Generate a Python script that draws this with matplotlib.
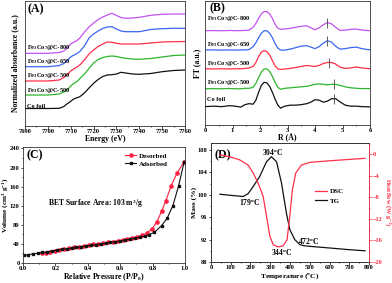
import matplotlib
matplotlib.use("Agg")
import matplotlib.pyplot as plt
from matplotlib.ticker import MultipleLocator

plt.rcParams['font.family'] = ['Liberation Serif', 'DejaVu Serif']
plt.rcParams['font.weight'] = 'bold'
plt.rcParams['axes.labelweight'] = 'bold'
plt.rcParams['mathtext.fontset'] = 'custom'
plt.rcParams['mathtext.rm'] = 'Liberation Serif:bold'
plt.rcParams['mathtext.it'] = 'Liberation Serif:italic:bold'
plt.rcParams['mathtext.bf'] = 'Liberation Serif:bold'

# ---------------- Panel A data (XANES) ----------------
energy = [7690, 7700, 7705, 7707, 7708, 7709, 7710, 7711, 7712, 7713, 7714, 7716, 7718,
          7720, 7722, 7724, 7726, 7728, 7730, 7732, 7734, 7737, 7740, 7745, 7750, 7755, 7760]
xanes_cofoil = [17.5, 17.5, 17.7, 19.5, 21.5, 23, 24.7, 26.5, 27.7, 28.5, 29.3, 33, 38,
                42.7, 46.5, 49.5, 51, 51.3, 52, 53.7, 53, 52, 51.7, 52.5, 54.3, 55.5, 56]
xanes_500b = [31, 31, 32, 34, 35.5, 37.5, 40, 42, 43.5, 45, 47.5, 52, 57.5,
              63, 66.5, 68.5, 69.5, 70, 69.5, 68.5, 67.7, 67, 66.7, 67.5, 69, 70.5, 71]
xanes_500a = [45, 45, 46, 48.5, 50.5, 52.5, 55, 56.5, 58, 59.5, 61, 66, 72,
              76, 79.5, 82, 84, 83.7, 82.7, 82, 82, 82, 82, 83, 84, 84.3, 84.5]
xanes_650 = [59.3, 59.3, 60.5, 62.5, 64.5, 67, 69, 70.5, 71.5, 73, 74.5, 80, 88,
             92, 95, 97.5, 99, 99.3, 97, 95, 94.3, 94.3, 94.3, 96.5, 97.3, 97.7, 97.7]
xanes_800 = [72.7, 72.7, 73.5, 75, 77, 79.5, 82, 83.5, 84.5, 86, 88, 94, 99,
             103, 106.5, 109, 111, 112.7, 110.5, 108.5, 107.7, 108, 108.7, 110.7, 111.7, 112, 112]

# ---------------- Panel B data (FT-EXAFS) ----------------
r_grid = [0, 0.3, 0.6, 0.9, 1.1, 1.3, 1.45, 1.6, 1.75, 1.85, 1.95, 2.05, 2.15, 2.25, 2.35,
          2.45, 2.55, 2.65, 2.75, 2.9, 3.1, 3.3, 3.5, 3.7, 3.85, 4.0, 4.15, 4.3, 4.45, 4.6,
          4.75, 4.9, 5.1, 5.3, 5.5, 5.7, 6.0]
ft_cofoil = [18.5, 19, 18.5, 19.5, 19, 18, 20.5, 21.5, 21, 25, 33, 40, 43, 42.5, 39,
             33, 26, 20, 17, 19, 20, 20, 20.5, 21.5, 23, 25.5, 25, 23, 24, 26.5,
             26.5, 23.5, 20, 19, 19, 18.5, 18.3]
ft_500b = [36.5, 36.7, 36.5, 36.8, 36.5, 36.5, 37, 37, 38, 42, 48, 53.5, 56.5, 56.5, 54,
           49, 43, 38, 36, 37, 37.5, 38, 38.5, 39, 40, 41, 41.5, 41, 40.5, 41,
           41, 40, 38.5, 37.5, 37, 36.7, 36.7]
ft_500a = [56.7, 56.5, 56.7, 56.5, 56.7, 56.7, 57, 57.5, 59, 63, 69, 73.5, 75, 74, 70.5,
           65, 59.5, 56.5, 56, 56.5, 57, 58, 59, 60, 59.5, 59, 60, 62, 63, 63,
           61.5, 58.5, 57, 57.5, 58.5, 57.5, 56.7]
ft_650 = [75.7, 75.7, 75.5, 75.7, 75.5, 75.7, 75.7, 76, 79, 83, 88, 92.5, 95, 95, 92.5,
          88, 82, 77.5, 75.5, 75.5, 76.5, 78, 79.5, 80, 78.5, 77, 79, 82.5, 85, 83.5,
          79.5, 76.5, 77, 78, 78.5, 77, 75.7]
ft_800 = [95, 95.2, 95, 95.3, 95, 95.2, 95.3, 95.7, 98.5, 102.5, 107.5, 112, 114.3, 114.3, 112,
          107.5, 101.5, 97.5, 96.5, 96.7, 97.5, 98.5, 99.5, 100, 98, 96, 98, 101, 103.3, 102,
          98.5, 95.5, 95.5, 96.5, 96.7, 95.7, 95]
mark_r = [4.7, 4.7, 4.5, 4.45, 4.45]
mark_y = [26.5, 41, 63, 85, 103.3]

sample_labels = ['Co foil', 'Fe$_3$Co$_7$@C-500', 'Fe$_3$Co$_7$@C-500',
                 'Fe$_3$Co$_7$@C-650', 'Fe$_3$Co$_7$@C-800']
colors = ['#111111', '#2db52d', '#ff2d4a', '#3a66f0', '#c253ee']

# ---------------- Panel C data (N2 isotherm) ----------------
p_ads = [0.005, 0.03, 0.06, 0.09, 0.12, 0.15, 0.18, 0.21, 0.24, 0.27, 0.30, 0.33, 0.36, 0.39,
         0.42, 0.45, 0.48, 0.51, 0.54, 0.57, 0.60, 0.63, 0.66, 0.69, 0.72, 0.75, 0.775, 0.81,
         0.855, 0.89, 0.925, 0.96, 0.995]
v_ads = [16, 17.5, 19, 20.5, 22, 23.5, 25, 27, 28.5, 30, 31, 32.5, 34, 35.5,
         37, 38.5, 40, 41.5, 43, 44.5, 46, 48, 50, 52, 54, 56.5, 59, 64,
         78, 94, 120, 161, 212]
p_des = [0.995, 0.95, 0.915, 0.88, 0.855, 0.825, 0.795, 0.765, 0.735, 0.705, 0.675, 0.645,
         0.615, 0.585, 0.555, 0.525, 0.495, 0.465, 0.435, 0.405, 0.375, 0.345, 0.315, 0.285,
         0.255, 0.225, 0.195, 0.165, 0.14, 0.12]
v_des = [212, 188, 162, 129, 108, 85, 71, 63, 58, 55, 53, 50.5,
         48.5, 46.5, 45, 43.5, 42, 40.5, 39, 37.5, 36, 34, 32.5, 30.5,
         28.5, 26.5, 24.5, 22.5, 21, 20]

# ---------------- Panel D data (TG / DSC) ----------------
t_tg = [45, 100, 163, 188, 214, 247, 281, 306, 332, 357, 382, 399, 424, 450, 472, 500, 601, 700, 780]
mass = [100.1, 99.9, 99.7, 100.2, 101.5, 103.3, 105.9, 106.8, 105.9, 102.1, 96.7, 93.8, 92.0, 91.1,
        90.9, 90.8, 90.5, 90.2, 90.0]
t_dsc = [45, 100, 146, 188, 214, 239, 264, 281, 298, 315, 340, 365, 385, 399, 412, 429, 458, 500,
         601, 700, 780]
heat = [-0.1, -0.5, -1.05, -2.0, -3.5, -5.4, -7.8, -11.5, -15.2, -16.8, -17.2, -17.0, -15.9, -11.5,
        -6.6, -3.5, -2.0, -1.5, -1.2, -0.95, -0.75]


def rect(l, t, r, b):
    return [l / 392, 1 - b / 283, (r - l) / 392, (b - t) / 283]


fig = plt.figure(figsize=(3.92, 2.83), dpi=100)
TICK = 4.7
LAB = 5.6
SPINE = '#333333'
RED = '#ff3048'


def style(ax):
    for s in ax.spines.values():
        s.set_linewidth(0.6)
        s.set_color(SPINE)
    ax.tick_params(which='both', direction='out', labelsize=TICK, width=0.5, pad=0.6)
    ax.tick_params(which='major', length=1.8)
    ax.tick_params(which='minor', length=1.0)
    for lbl in ax.get_xticklabels() + ax.get_yticklabels():
        lbl.set_fontweight('bold')


# ---- A ----
axA = fig.add_axes(rect(25, 1, 185, 126))
for ys, c in zip([xanes_cofoil, xanes_500b, xanes_500a, xanes_650, xanes_800], colors):
    axA.plot(energy, ys, color=c, lw=0.9)
axA.set_xlim(7690, 7760)
axA.set_ylim(0, 125)
axA.xaxis.set_major_locator(MultipleLocator(10))
axA.xaxis.set_minor_locator(MultipleLocator(5))
axA.set_yticks([])
style(axA)
axA.set_xlabel('Energy (eV)', fontsize=LAB)
axA.xaxis.set_label_coords(0.5, -0.068)
axA.set_ylabel('Normalized absorbance (a.u.)', fontsize=LAB)
axA.yaxis.set_label_coords(-0.035, 0.5)
a_lab_y = [20, 36, 50.3, 64.3, 78.3]
for t, y in zip(sample_labels, a_lab_y):
    axA.text(7691, y, t, fontsize=4.6, va='center', ha='left')
axA.text(0.015, 0.93, '(A)', transform=axA.transAxes, fontsize=8.5, va='center', ha='left')

# ---- B ----
axB = fig.add_axes(rect(205, 1, 370, 125))
for ys, c in zip([ft_cofoil, ft_500b, ft_500a, ft_650, ft_800], colors):
    axB.plot(r_grid, ys, color=c, lw=0.9)
axB.plot(mark_r, mark_y, ls='none', marker='|', ms=7, mew=0.6, color='#444444')
axB.set_xlim(0, 6)
axB.set_ylim(0, 125)
axB.xaxis.set_major_locator(MultipleLocator(1))
axB.xaxis.set_minor_locator(MultipleLocator(0.5))
axB.set_yticks([])
style(axB)
axB.set_xlabel('R (Å)', fontsize=LAB)
axB.xaxis.set_label_coords(0.5, -0.07)
axB.set_ylabel('FT (a.u.)', fontsize=LAB)
axB.yaxis.set_label_coords(-0.022, 0.5)
b_lab_y = [25.7, 43.3, 61.7, 80.7, 107.3]
for t, y in zip(sample_labels, b_lab_y):
    axB.text(0.06, y, t, fontsize=4.6, va='center', ha='left')
axB.text(0.025, 0.94, '(B)', transform=axB.transAxes, fontsize=8.5, va='center', ha='left')

# ---- C ----
axC = fig.add_axes(rect(23, 147, 185, 263))
axC.plot(p_des, v_des, color='#ff2040', marker='o', ms=2.3, lw=0.8, label='Desorbed')
axC.plot(p_ads, v_ads, color='#111111', marker='s', ms=2.0, lw=0.8, label='Adsorbed')
axC.set_xlim(0, 1)
axC.set_ylim(0, 243)
axC.set_xticks([0, 0.2, 0.4, 0.6, 0.8, 1.0])
axC.set_xticklabels(['0.0', '0.2', '0.4', '0.6', '0.8', '1.0'])
axC.xaxis.set_minor_locator(MultipleLocator(0.1))
axC.yaxis.set_major_locator(MultipleLocator(40))
axC.yaxis.set_minor_locator(MultipleLocator(20))
style(axC)
axC.set_xlabel('Relative Pressure (P/P$_0$)', fontsize=LAB)
axC.xaxis.set_label_coords(0.5, -0.075)
axC.set_ylabel('Volume (cm$^3$ g$^{-1}$)', fontsize=5.2)
axC.yaxis.set_label_coords(-0.082, 0.5)
axC.text(0.155, 124, 'BET Surface Area: 103 m$^2$/g', fontsize=5.5, va='center', ha='left')
axC.text(0.02, 0.93, '(C)', transform=axC.transAxes, fontsize=8.5, va='center', ha='left')
axC.legend(loc='upper left', bbox_to_anchor=(0.6, 0.99), frameon=False, fontsize=5,
           handlelength=1.6, handletextpad=0.4, labelspacing=0.3, borderpad=0.2)

# ---- D ----
axD = fig.add_axes(rect(211, 143, 369, 262))
lTG, = axD.plot(t_tg, mass, color='#111111', lw=0.9, label='TG')
axD.set_xlim(0, 800)
axD.set_ylim(88, 109.25)
axD.set_yticks([88, 92, 96, 100, 104, 108])
axD.yaxis.set_minor_locator(MultipleLocator(2))
axD.xaxis.set_major_locator(MultipleLocator(100))
axD.xaxis.set_minor_locator(MultipleLocator(50))
style(axD)
axD.set_xlabel('Temperature ($^{\\rm o}$C)', fontsize=5.4)
axD.xaxis.set_label_coords(0.5, -0.075)
axD.set_ylabel('Mass (%)', fontsize=5.4)
axD.yaxis.set_label_coords(-0.088, 0.5)
axD2 = axD.twinx()
lDSC, = axD2.plot(t_dsc, heat, color=RED, lw=0.9, label='DSC')
axD2.set_ylim(-20, 2.1)
axD2.set_yticks([-20, -16, -12, -8, -4, 0])
axD2.yaxis.set_minor_locator(MultipleLocator(2))
style(axD2)
axD2.tick_params(axis='y', labelsize=4.5)
axD2.spines['right'].set_color(RED)
axD2.tick_params(axis='y', which='both', colors=RED)
axD2.set_ylabel('Heatflow (W g$^{-1}$)', fontsize=4.6, color=RED, rotation=270, va='bottom')
axD2.yaxis.set_label_coords(1.088, 0.5)
axD.text(0.02, 0.9, '(D)', transform=axD.transAxes, fontsize=8.5, va='center', ha='left')
for txt, x, y in [('304$^{\\rm o}$C', 313, 107.6), ('179$^{\\rm o}$C', 197, 98.7),
                  ('344$^{\\rm o}$C', 359, 89.7), ('472$^{\\rm o}$C', 495, 91.8)]:
    axD.text(x, y, txt, fontsize=5.5, ha='center', va='center')
axD2.legend([lDSC, lTG], ['DSC', 'TG'], loc='upper left', bbox_to_anchor=(0.63, 0.66),
            frameon=False, fontsize=5, handlelength=1.6, handletextpad=0.5,
            labelspacing=0.5, borderpad=0.2)

fig.savefig('out.png', dpi=100)
